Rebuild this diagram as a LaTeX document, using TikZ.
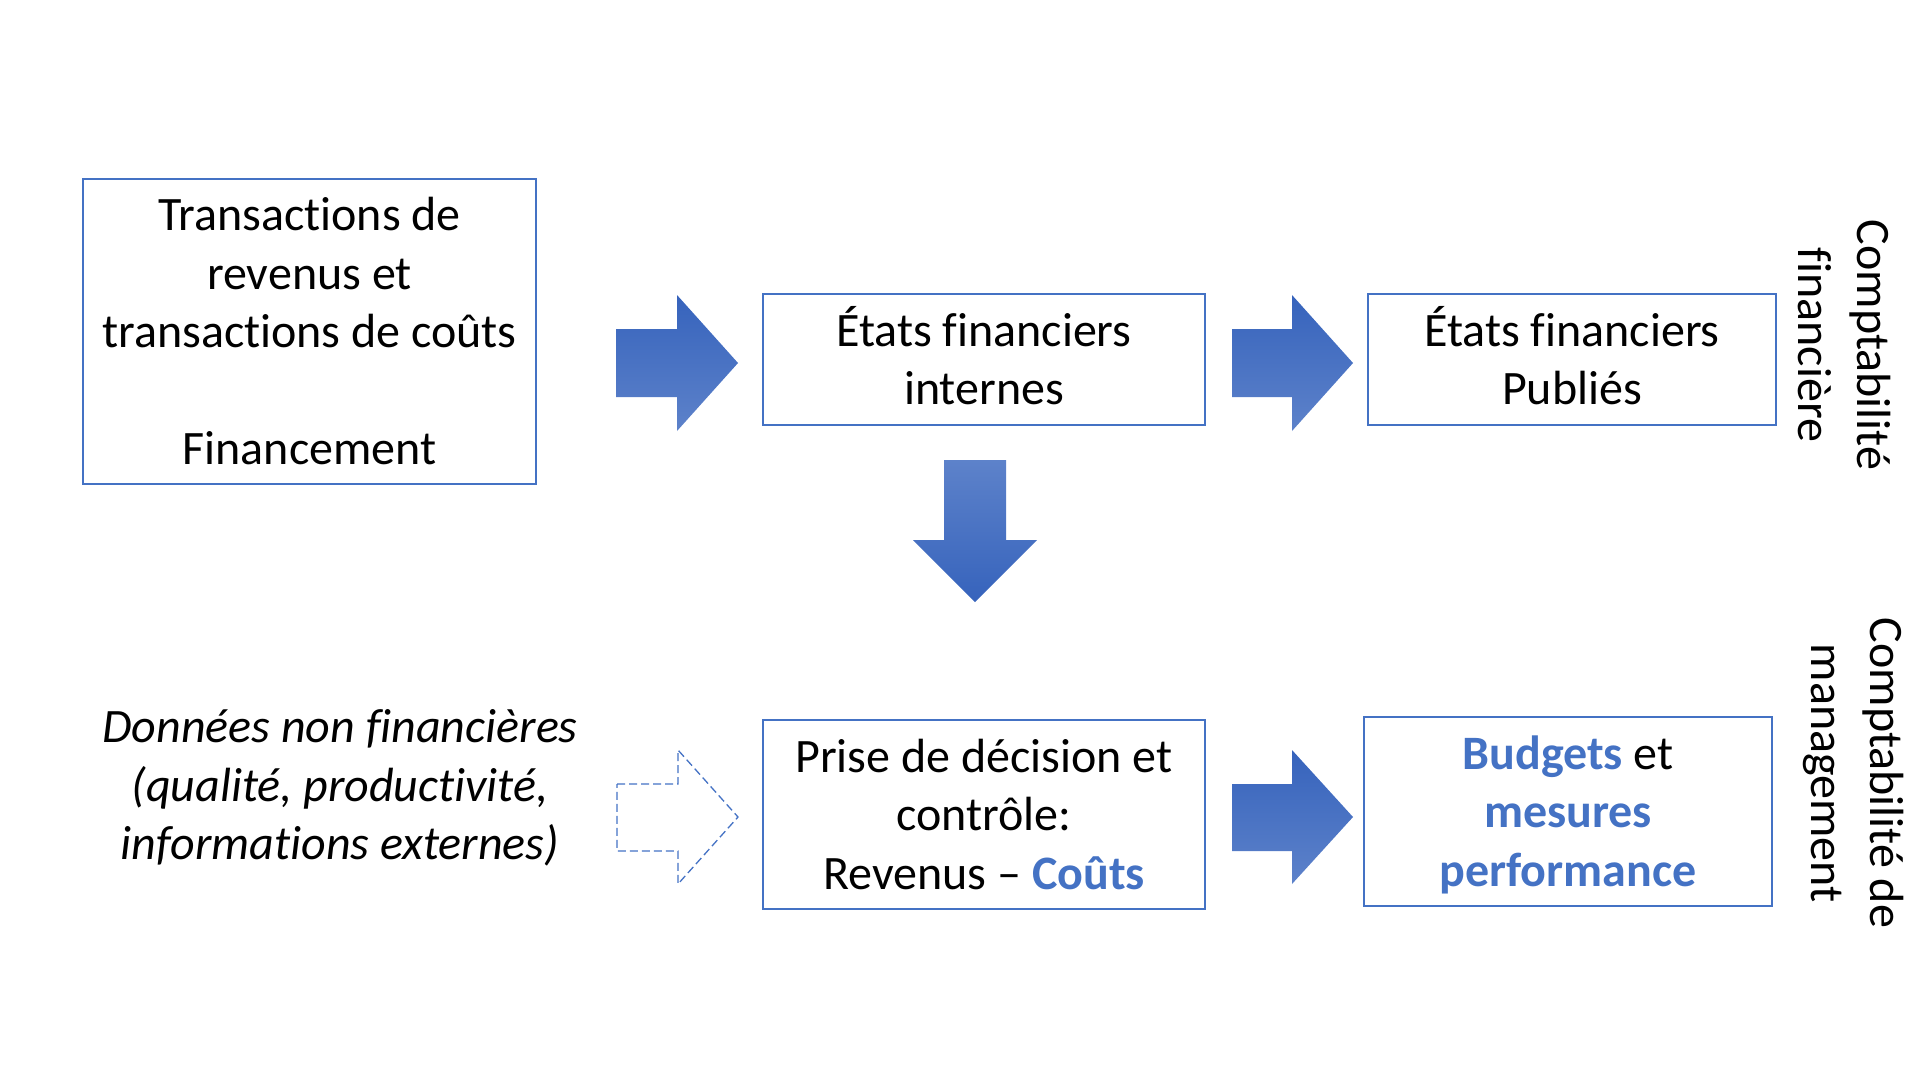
\documentclass[tikz,border=0pt]{standalone}
\usepackage{fontspec}
\setmainfont{Carlito}[Ligatures={NoCommon,NoContextual}]
\definecolor{boxblue}{HTML}{4472C4}
\definecolor{arrdark}{HTML}{3663BC}
\definecolor{arrlight}{HTML}{5D82CA}
\newcommand\bigfs{\fontsize{48}{58.6}\selectfont}
\newcommand\hl[1]{{\bfseries\color{boxblue}#1}}
\newcommand\sts{\vphantom{Ép()}}
\newcommand\nolig{\kern0pt{}}
\tikzset{
  box/.style={draw=boxblue, line width=1.5pt, inner sep=0pt, align=center, font=\bigfs},
  plain/.style={inner sep=0pt, align=center, font=\bigfs},
  blockarrow/.style={top color=arrdark, bottom color=arrlight},
  downarrow/.style={top color=arrlight, bottom color=arrdark},
  ghostarrow/.style={draw=boxblue, line width=1.3pt, dash pattern=on 8pt off 4pt, line join=miter}
}
\begin{document}
\begin{tikzpicture}[x=1pt,y=-1pt]
\useasboundingbox (0,0) rectangle (1920,1080);
% boxes
\node[box, minimum width=453pt, minimum height=305pt] (tr) at (309.5,331.5)
  {\sts Transact\nolig ions de\\revenus et\\transact\nolig ions de coûts\\ ~ \\Financement\sts};
\node[box, minimum width=442pt, minimum height=131pt] (int) at (984,359.5)
  {\sts États f\nolig inanciers\\internes\sts};
\node[box, minimum width=408pt, minimum height=131pt] (pub) at (1572,359.5)
  {\sts États f\nolig inanciers\\Publiés\sts};
\node[box, minimum width=442pt, minimum height=189pt] (dec) at (984,814.5)
  {\sts Prise de décision et\\contrôle:\\Revenus – \hl{Coûts}\sts};
\node[box, minimum width=408pt, minimum height=189pt] (bud) at (1568,811.5)
  {\sts\hl{Budgets} et\\\hl{mesures}\\\hl{performance}\sts};
\node[plain, font=\bigfs\itshape] (nf) at (340,785)
  {\sts Données non f\nolig inancières\\(qualité, product\nolig ivité,\\informat\nolig ions externes)\sts};
% side labels
\node[plain, rotate=-90] (cf) at (1844,345) {\sts Comptabilité\\f\nolig inancière\sts};
\node[plain, rotate=-90] (cm) at (1857,773) {\sts Comptabilité de\\management\sts};
% block arrows
\shade[blockarrow] (616,329) -- (677,329) -- (677,295) -- (738,363) -- (677,431) -- (677,397) -- (616,397) -- cycle;
\shade[blockarrow] (1232,329) -- (1292,329) -- (1292,295) -- (1353,363) -- (1292,431) -- (1292,397) -- (1232,397) -- cycle;
\shade[blockarrow] (1232,784) -- (1292,784) -- (1292,750) -- (1353,817) -- (1292,884) -- (1292,851) -- (1232,851) -- cycle;
\shade[downarrow] (944,460) -- (1006,460) -- (1006,540) -- (1037,540) -- (975,602) -- (913,540) -- (944,540) -- cycle;
\draw[ghostarrow] (617,784) -- (678,784) -- (678,750) -- (738,817) -- (678,884) -- (678,851) -- (617,851) -- cycle;
\end{tikzpicture}
\end{document}
